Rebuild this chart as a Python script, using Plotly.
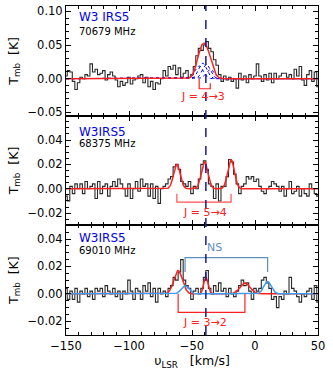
import numpy as np
import plotly.graph_objects as go
from plotly.subplots import make_subplots

# ---------------- data ----------------
VELOCITY = list(range(-150, 51, 2))  # km/s channel centres

SPEC_70679 = [
    0.004, 0.012, 0.010, -0.004, -0.016, -0.006, 0.002, 0.000, 0.006, 0.004,
    0.022, 0.010, 0.014, 0.006, 0.008, 0.012, -0.002, 0.006, 0.010, 0.004,
    -0.002, -0.012, -0.004, -0.010, -0.006, 0.002, -0.008, -0.002, 0.000, 0.004,
    0.006, -0.006, 0.002, -0.012, -0.004, -0.016, -0.006, -0.008, 0.000, 0.012,
    0.004, 0.018, 0.014, 0.020, 0.006, 0.016, 0.002, 0.008, 0.012, 0.002,
    0.006, 0.018, 0.034, 0.045, 0.042, 0.050, 0.055, 0.045, 0.040, 0.028,
    0.020, 0.006, -0.004, 0.004, -0.002, 0.002, -0.004, 0.000, -0.014, 0.008,
    -0.002, 0.004, -0.006, 0.006, 0.000, 0.004, 0.022, 0.004, -0.004, 0.006,
    -0.002, 0.008, -0.006, 0.008, 0.000, 0.004, 0.008, 0.008, 0.002, 0.006,
    0.000, 0.014, 0.004, 0.018, -0.002, -0.010, 0.006, 0.012, -0.004, 0.010,
    -0.012,
]
SPEC_68375 = [
    -0.006, -0.010, 0.002, -0.004, 0.004, 0.000, 0.004, -0.004, 0.006, 0.000,
    0.002, 0.004, -0.008, 0.006, -0.004, 0.002, 0.004, -0.006, 0.002, 0.006,
    0.002, 0.008, 0.004, 0.000, -0.006, 0.004, -0.008, 0.000, 0.006, -0.002,
    0.008, 0.002, 0.004, -0.006, 0.004, -0.008, 0.002, -0.012, 0.000, 0.002,
    0.004, 0.008, 0.010, 0.018, 0.020, 0.016, 0.006, 0.004, 0.002, 0.006,
    -0.004, 0.002, 0.000, 0.008, 0.020, 0.023, 0.016, 0.004, 0.002, -0.008,
    0.004, -0.010, 0.002, 0.002, 0.010, 0.024, 0.022, 0.012, 0.004, -0.004,
    0.002, 0.004, 0.010, 0.008, 0.010, 0.006, 0.008, 0.002, -0.002, -0.004,
    0.000, 0.002, 0.006, 0.004, 0.002, -0.002, 0.002, -0.006, 0.000, 0.006,
    -0.004, -0.002, 0.002, -0.006, 0.000, -0.004, -0.006, 0.004, 0.000, -0.004,
    -0.006,
]
SPEC_69010 = [
    0.004, -0.004, 0.002, -0.004, 0.004, -0.006, 0.002, 0.000, 0.004, -0.002,
    0.002, -0.004, 0.004, 0.002, 0.004, -0.002, 0.006, 0.002, 0.000, 0.004,
    -0.002, 0.002, -0.004, 0.002, 0.000, 0.010, 0.002, -0.004, 0.004, 0.002,
    -0.004, 0.006, 0.002, 0.008, -0.002, 0.004, -0.006, 0.004, 0.000, 0.002,
    -0.002, 0.004, 0.006, 0.012, 0.010, 0.016, 0.025, 0.010, 0.006, 0.004,
    -0.004, 0.002, 0.004, 0.000, 0.004, 0.012, 0.017, 0.004, 0.000, 0.006,
    0.002, 0.008, 0.002, 0.004, -0.002, 0.004, 0.000, -0.002, 0.002, 0.006,
    0.010, 0.006, 0.008, 0.002, -0.004, 0.004, 0.002, 0.004, 0.010, 0.012,
    0.008, 0.004, -0.004, -0.002, -0.010, -0.002, -0.004, 0.002, 0.000, 0.012,
    0.004, 0.002, -0.002, -0.006, 0.000, -0.002, 0.002, 0.004, -0.004, 0.006,
    -0.006,
]

# Gaussian fit parameters (centre km/s, amplitude K, sigma km/s)
HFS_43_CENTER = [-44.3, -41.5, -38.5, -35.5]
HFS_43_AMP = [0.019, 0.023, 0.021, 0.014]
HFS_43_SIGMA = [3.2, 3.2, 3.2, 3.2]

FIT_54_CENTER = [-62.0, -40.0, -19.0]
FIT_54_AMP = [0.020, 0.022, 0.024]
FIT_54_SIGMA = [2.6, 2.6, 2.6]

FIT_32_CENTER = [-61.0, -39.0, -8.0]
FIT_32_AMP = [0.017, 0.012, 0.008]
FIT_32_SIGMA = [3.4, 1.7, 4.0]

NS_CENTER = [-55.5, 10.0]
NS_AMP = [0.006, 0.009]
NS_SIGMA = [3.0, 3.0]

V_LSR = -39.0
SOURCES = ["W3 IRS5", "W3IRS5", "W3IRS5"]
FREQS = ["70679 MHz", "68375 MHz", "69010 MHz"]
TRANSITIONS = ["J = 4→3", "J = 5→4", "J = 3→2"]
X_TICKS = [-150, -100, -50, 0, 50]
Y_TICKS = [[-0.05, 0.0, 0.05, 0.10], [-0.02, 0.0, 0.02, 0.04], [-0.02, 0.0, 0.02, 0.04]]

# ---------------- helpers ----------------
vgrid = np.linspace(-150, 50, 801)


def gauss(c, a, s):
    return a * np.exp(-0.5 * ((vgrid - c) / s) ** 2)


RED = "#ff2020"
BLUE = "#0000ee"
LBLUE = "#3d9cf0"
NSCOL = "#5b8fc2"

fig = make_subplots(rows=3, cols=1, shared_xaxes=True, vertical_spacing=0)

spectra = [SPEC_70679, SPEC_68375, SPEC_69010]
for i, s in enumerate(spectra, start=1):
    fig.add_trace(go.Scatter(x=VELOCITY, y=s, mode="lines", line=dict(color="#2a2a2a", width=1.1, shape="hvh"),
                             showlegend=False, hoverinfo="skip"), row=i, col=1)

# panel 1 hyperfine components
tot = np.zeros_like(vgrid)
for c, a, s in zip(HFS_43_CENTER, HFS_43_AMP, HFS_43_SIGMA):
    g = gauss(c, a, s)
    tot += g
    fig.add_trace(go.Scatter(x=vgrid, y=g, mode="lines", line=dict(color=BLUE, width=1, dash="dot"),
                             showlegend=False, hoverinfo="skip"), row=1, col=1)
fig.add_trace(go.Scatter(x=vgrid, y=tot, mode="lines", line=dict(color=RED, width=1.5),
                         showlegend=False, hoverinfo="skip"), row=1, col=1)

# panel 2 fit
tot = np.zeros_like(vgrid)
for c, a, s in zip(FIT_54_CENTER, FIT_54_AMP, FIT_54_SIGMA):
    tot += gauss(c, a, s)
fig.add_trace(go.Scatter(x=vgrid, y=tot, mode="lines", line=dict(color=RED, width=1.5),
                         showlegend=False, hoverinfo="skip"), row=2, col=1)

# panel 3 fits
ns = np.zeros_like(vgrid)
for c, a, s in zip(NS_CENTER, NS_AMP, NS_SIGMA):
    ns += gauss(c, a, s)
tot = np.zeros_like(vgrid)
for c, a, s in zip(FIT_32_CENTER, FIT_32_AMP, FIT_32_SIGMA):
    tot += gauss(c, a, s)
fig.add_trace(go.Scatter(x=vgrid, y=tot, mode="lines", line=dict(color=RED, width=1.5),
                         showlegend=False, hoverinfo="skip"), row=3, col=1)
fig.add_trace(go.Scatter(x=vgrid, y=ns, mode="lines", line=dict(color=LBLUE, width=1.5),
                         showlegend=False, hoverinfo="skip"), row=3, col=1)


def bracket(row, x0, x1, ytop0, ytop1, ybot, color):
    fig.add_trace(go.Scatter(x=[x0, x0, x1, x1], y=[ytop0, ybot, ybot, ytop1], mode="lines",
                             line=dict(color=color, width=1.2), showlegend=False, hoverinfo="skip"),
                  row=row, col=1)


bracket(1, HFS_43_CENTER[0], HFS_43_CENTER[-1], 0.0, -0.007, -0.015, RED)
bracket(2, FIT_54_CENTER[0], FIT_54_CENTER[-1], -0.004, -0.004, -0.011, "#ff5050")
bracket(3, FIT_32_CENTER[0], FIT_32_CENTER[-1], 0.0, 0.0, -0.0135, RED)
bracket(3, NS_CENTER[0], NS_CENTER[-1], 0.016, 0.016, 0.0265, NSCOL)

FONT = "DejaVu Sans"
trans_y = [-0.027, -0.0195, -0.021]
trans_x = [-41.0, -40.0, -40.0]
for i in range(3):
    fig.add_annotation(x=trans_x[i], y=trans_y[i], xref=f"x{i+1 if i else ''}", yref=f"y{i+1 if i else ''}",
                       text=TRANSITIONS[i], showarrow=False, font=dict(family=FONT, size=11, color=RED))
fig.add_annotation(x=-32, y=0.0335, xref="x3", yref="y3", text="NS", showarrow=False,
                   font=dict(family=FONT, size=11, color=NSCOL))

src_y = [0.90, 0.855, 0.885]
frq_y = [0.77, 0.745, 0.775]
for i in range(3):
    ax = "" if i == 0 else str(i + 1)
    fig.add_annotation(x=0.045, y=src_y[i], xref=f"x{ax} domain", yref=f"y{ax} domain", text=SOURCES[i],
                       showarrow=False, xanchor="left", yanchor="middle",
                       font=dict(family=FONT, size=12, color=BLUE))
    fig.add_annotation(x=0.045, y=frq_y[i], xref=f"x{ax} domain", yref=f"y{ax} domain", text=FREQS[i],
                       showarrow=False, xanchor="left", yanchor="middle",
                       font=dict(family=FONT, size=10, color="black"))

fig.add_shape(type="line", xref="x", yref="paper", x0=V_LSR, x1=V_LSR, y0=0, y1=1,
              line=dict(color="#1a1a9a", width=1.5, dash="dash"))

axis_common = dict(showline=True, linecolor="black", linewidth=1, mirror="allticks", ticks="inside",
                   ticklen=5, tickwidth=1, tickcolor="black", showgrid=False, zeroline=False,
                   automargin=False, tickfont=dict(family=FONT, size=11.5, color="black"))
for i in range(1, 4):
    fig.update_xaxes(range=[-150, 50], tickvals=X_TICKS,
                     minor=dict(ticks="inside", dtick=10, tick0=-150, ticklen=3, tickcolor="black"),
                     row=i, col=1, **axis_common)

fig.update_yaxes(range=[-0.055, 0.108], tickvals=Y_TICKS[0], tickformat=".2f",
                 minor=dict(ticks="inside", dtick=0.01, tick0=0, ticklen=3, tickcolor="black"),
                 row=1, col=1, **axis_common)
fig.update_yaxes(range=[-0.03, 0.06], tickvals=Y_TICKS[1], tickformat=".2f",
                 minor=dict(ticks="inside", dtick=0.005, tick0=0, ticklen=3, tickcolor="black"),
                 row=2, col=1, **axis_common)
fig.update_yaxes(range=[-0.03, 0.05], tickvals=Y_TICKS[2], tickformat=".2f",
                 minor=dict(ticks="inside", dtick=0.005, tick0=0, ticklen=3, tickcolor="black"),
                 row=3, col=1, **axis_common)

ytitle = dict(text="T<sub>mb</sub>  [K]", font=dict(family=FONT, size=12.5, color="black"), standoff=6)
for i in range(1, 4):
    fig.update_yaxes(title=ytitle, row=i, col=1)
fig.update_xaxes(title=dict(text="υ<sub>LSR</sub>   [km/s]", font=dict(family=FONT, size=12.5, color="black"),
                            standoff=4), row=3, col=1)

fig.update_layout(width=333, height=376, margin=dict(l=66, r=15, t=6, b=41, autoexpand=False),
                  plot_bgcolor="white", paper_bgcolor="white", showlegend=False)

fig.write_html("out.html", config={"displayModeBar": False},
               post_script="document.body.style.margin='0px';document.body.style.padding='0px';")
